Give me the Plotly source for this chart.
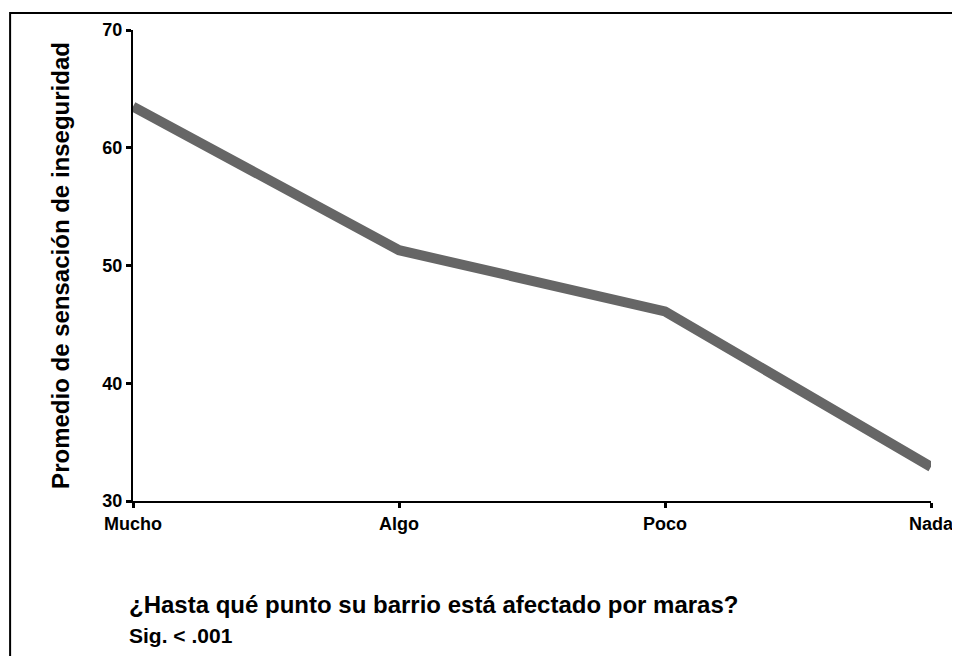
import plotly.graph_objects as go

# data
categorias = ['Mucho', 'Algo', 'Poco', 'Nada']
promedio = [63.5, 51.3, 46.1, 32.9]
y_ticks = [30, 40, 50, 60, 70]

fuente = 'Liberation Sans, Arial, sans-serif'

data = [go.Scatter(x=categorias,
                   y=promedio,
                   mode='lines',
                   line=dict(color='#666666', width=10),
                   hoverinfo='x+y')]

# the page body adds an 8px offset, so margins are shifted by that amount
layout = go.Layout(
    width=960, height=656,
    paper_bgcolor='white', plot_bgcolor='white',
    margin=dict(l=125, r=37, t=20, b=163),
    showlegend=False,
    font=dict(family=fuente, color='black'),
    xaxis=dict(type='category', range=[0, 3],
               showgrid=False, zeroline=False,
               showline=True, linecolor='black', linewidth=2,
               ticks='outside', ticklen=5, tickwidth=3, tickcolor='black',
               tickfont=dict(size=18, weight='bold')),
    yaxis=dict(range=[30, 70], tickvals=y_ticks,
               showgrid=False, zeroline=False,
               showline=True, linecolor='black', linewidth=2,
               ticks='outside', ticklen=5, tickwidth=3, tickcolor='black',
               tickfont=dict(size=18, weight='bold'),
               title=dict(text='Promedio de sensación de inseguridad',
                          font=dict(size=24, weight='bold'), standoff=26)),
    annotations=[
        dict(text='¿Hasta qué punto su barrio está afectado por maras?',
             xref='paper', yref='paper', x=-0.008, y=-0.22,
             xanchor='left', yanchor='middle', showarrow=False,
             font=dict(size=24, weight='bold')),
        dict(text='Sig. < .001',
             xref='paper', yref='paper', x=-0.008, y=-0.285,
             xanchor='left', yanchor='middle', showarrow=False,
             font=dict(size=21, weight='bold')),
    ],
    shapes=[dict(type='rect', xref='paper', yref='paper',
                 x0=-0.154, x1=1.06, y0=-0.4, y1=1.036,
                 line=dict(color='black', width=2), fillcolor='rgba(0,0,0,0)',
                 layer='below')]
)

fig = go.Figure(data=data, layout=layout)
fig.write_html('out.html')
